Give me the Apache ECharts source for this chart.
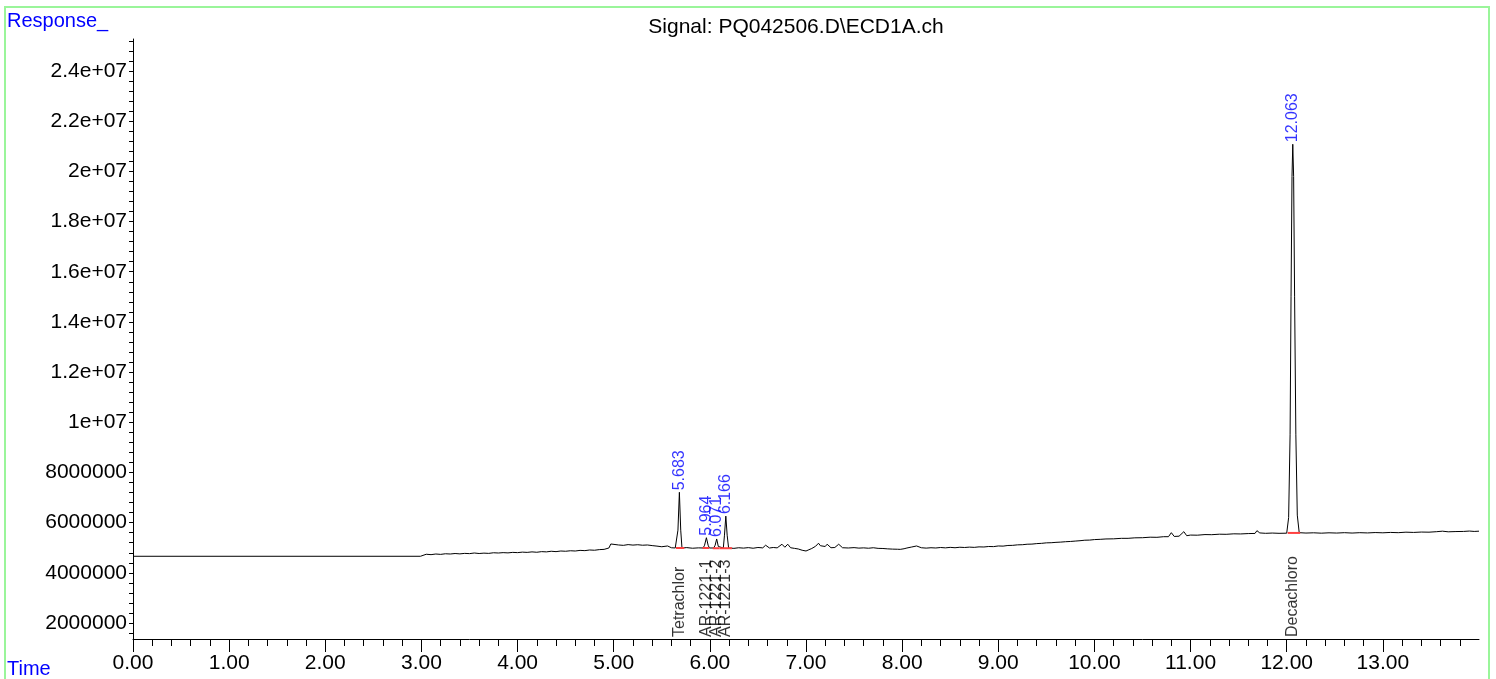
<!DOCTYPE html>
<html>
<head>
<meta charset="utf-8">
<title>ECD1A chromatogram</title>
<script src="https://cdn.jsdelivr.net/npm/echarts@6.0.0/dist/echarts.min.js"></script>
<style>
  html, body { margin: 0; padding: 0; background: #fff; }
  #main { width: 1496px; height: 679px; }
</style>
</head>
<body>
<div id="main"></div>
<script>
// signal trace: [time (min), response]
const trace = [
  [0.00, 4660000], [2.99, 4660000],
  [3.00, 4710000], [3.05, 4740000], [3.10, 4725000], [3.15, 4750000], [3.20, 4735000],
  [3.25, 4760000], [3.30, 4750000], [3.35, 4770000], [3.40, 4755000], [3.45, 4775000],
  [3.50, 4765000], [3.55, 4790000], [3.60, 4770000], [3.65, 4785000], [3.70, 4775000],
  [3.75, 4800000], [3.80, 4790000], [3.85, 4805000], [3.90, 4795000], [3.95, 4815000],
  [4.00, 4805000], [4.05, 4825000], [4.10, 4815000], [4.15, 4835000], [4.20, 4820000],
  [4.25, 4845000], [4.30, 4835000], [4.35, 4860000], [4.40, 4845000], [4.45, 4870000],
  [4.50, 4860000], [4.55, 4880000], [4.60, 4870000], [4.65, 4895000], [4.70, 4885000],
  [4.75, 4910000], [4.80, 4900000], [4.85, 4925000], [4.90, 4935000], [4.95, 4990000],
  [4.97, 5150000], [4.99, 5080000], [5.05, 5110000], [5.10, 5095000], [5.15, 5125000],
  [5.20, 5105000], [5.25, 5120000], [5.30, 5100000], [5.35, 5110000], [5.40, 5085000],
  [5.45, 5065000], [5.50, 5040000], [5.52, 5030000], [5.56, 5070000], [5.60, 5000000],
  [5.64, 4990000], [5.655, 4990000], [5.668, 5700000], [5.683, 7210000], [5.697, 5700000],
  [5.71, 4990000], [5.76, 5005000], [5.82, 4980000], [5.88, 4995000], [5.93, 4990000],
  [5.945, 5100000], [5.964, 5400000], [5.982, 5100000], [5.995, 4990000], [6.04, 4990000],
  [6.055, 5100000], [6.071, 5350000], [6.088, 5050000], [6.10, 4980000], [6.14, 4990000],
  [6.152, 5500000], [6.166, 6260000], [6.18, 5500000], [6.195, 4990000],
  [6.25, 4975000], [6.30, 5000000], [6.35, 4985000], [6.40, 5005000], [6.45, 4980000],
  [6.50, 5010000], [6.55, 4995000], [6.58, 5100000], [6.62, 4990000], [6.66, 5010000],
  [6.70, 4995000], [6.75, 5140000], [6.78, 5020000], [6.81, 5140000], [6.84, 5000000],
  [6.88, 4975000], [6.92, 4950000], [6.96, 4900000], [7.00, 4870000], [7.03, 4920000],
  [7.06, 4970000], [7.10, 5060000], [7.13, 5180000], [7.15, 5080000], [7.17, 5110000],
  [7.20, 5050000], [7.22, 5140000], [7.26, 5000000], [7.30, 5010000], [7.34, 5140000],
  [7.38, 5000000], [7.44, 4990000], [7.50, 5005000], [7.55, 4985000], [7.60, 4995000],
  [7.65, 4980000], [7.70, 5000000], [7.75, 4975000], [7.80, 4970000], [7.85, 4955000],
  [7.90, 4945000], [7.95, 4940000], [7.98, 4935000], [8.02, 4960000], [8.05, 4990000],
  [8.10, 5030000], [8.15, 5070000], [8.20, 5000000], [8.25, 4985000], [8.30, 5000000],
  [8.35, 4990000], [8.40, 5010000], [8.45, 4995000], [8.50, 5015000], [8.55, 5000000],
  [8.60, 5020000], [8.65, 5010000], [8.70, 5025000], [8.75, 5015000], [8.80, 5035000],
  [8.85, 5030000], [8.90, 5050000], [8.95, 5045000], [9.00, 5070000], [9.05, 5065000],
  [9.10, 5090000], [9.15, 5095000], [9.20, 5115000], [9.25, 5120000], [9.30, 5140000],
  [9.35, 5145000], [9.40, 5165000], [9.45, 5175000], [9.50, 5195000], [9.55, 5200000],
  [9.60, 5215000], [9.65, 5225000], [9.70, 5240000], [9.75, 5250000], [9.80, 5265000],
  [9.85, 5280000], [9.90, 5300000], [9.95, 5305000], [10.00, 5325000], [10.06, 5335000],
  [10.12, 5350000], [10.20, 5355000], [10.28, 5375000], [10.35, 5375000], [10.42, 5395000],
  [10.50, 5400000], [10.58, 5420000], [10.65, 5415000], [10.72, 5440000], [10.77, 5440000],
  [10.80, 5600000], [10.83, 5450000], [10.88, 5460000], [10.90, 5455000], [10.93, 5640000],
  [10.96, 5480000], [11.00, 5505000], [11.07, 5500000], [11.15, 5525000], [11.22, 5520000],
  [11.30, 5540000], [11.37, 5535000], [11.45, 5555000], [11.52, 5550000], [11.60, 5565000],
  [11.67, 5570000], [11.69, 5680000], [11.72, 5590000], [11.78, 5575000], [11.85, 5585000],
  [11.92, 5575000], [12.00, 5580000], [12.02, 6200000], [12.035, 9500000], [12.045, 15000000],
  [12.055, 19800000], [12.063, 21080000], [12.072, 19800000], [12.082, 15000000], [12.095, 9500000],
  [12.11, 6300000], [12.13, 5600000], [12.20, 5585000], [12.28, 5595000], [12.36, 5580000],
  [12.44, 5595000], [12.52, 5585000], [12.60, 5600000], [12.68, 5585000], [12.76, 5600000],
  [12.84, 5590000], [12.92, 5605000], [13.00, 5595000], [13.08, 5610000], [13.16, 5600000],
  [13.24, 5620000], [13.32, 5610000], [13.40, 5625000], [13.48, 5620000], [13.56, 5640000],
  [13.62, 5660000], [13.68, 5635000], [13.76, 5645000], [13.84, 5650000], [13.90, 5665000],
  [13.95, 5650000], [14.00, 5660000]
];

// integrated peaks
const peakTimes = [5.683, 5.964, 6.071, 6.166, 12.063];
const peakTops = [7210000, 5400000, 5350000, 6260000, 21080000];
const peakNames = ['Tetrachlor', 'AR-1221-1', 'AR-1221-2', 'AR-1221-3', 'Decachloro'];
// baseline under each peak: start, end, level
const baseStarts = [5.647, 5.924, 6.03, 6.10, 12.01];
const baseEnds = [5.734, 5.994, 6.10, 6.23, 12.14];
const baseLevels = [4990000, 4990000, 4980000, 4980000, 5590000];

// axis ticks
const xMajor = [0, 1, 2, 3, 4, 5, 6, 7, 8, 9, 10, 11, 12, 13];
const yLabels = [2000000, 4000000, 6000000, 8000000, 10000000, 12000000, 14000000,
  16000000, 18000000, 20000000, 22000000, 24000000];

const Y_MIN = 1363000, Y_MAX = 25275000;
const FONT = 'Arial, "Liberation Sans", sans-serif';

let xMinor = [];
for (let i = 0; i < 70; i++) {
  if (i % 5 != 0) xMinor.push(i / 5);
}
let yMinor = [];
for (let i = 4; i <= 63; i++) yMinor.push(i * 400000);

function fmtY(v) {
  if (v >= 10000000) return parseFloat((v / 10000000).toPrecision(3)) + 'e+07';
  return String(v);
}

let baseSeries = baseStarts.map((s, i) => ({
  type: 'line',
  data: [[s, baseLevels[i]], [baseEnds[i], baseLevels[i]]],
  symbol: 'none',
  lineStyle: { color: '#ff4040', width: 2 },
  silent: true,
  z: 3
}));

var option = {
  animation: false,
  backgroundColor: '#fff',
  textStyle: { fontFamily: FONT },
  grid: { left: 133, right: 17, top: 39, bottom: 40, containLabel: false },
  graphic: [
    {
      type: 'rect',
      shape: { x: 5, y: 7, width: 1484, height: 700 },
      style: { fill: 'none', stroke: '#9af59a', lineWidth: 2 },
      silent: true
    },
    {
      type: 'text', left: 7, top: 11,
      style: { text: 'Response_', fill: '#0000ff', font: '20px ' + FONT }
    },
    {
      type: 'text', left: 7, top: 659,
      style: { text: 'Time', fill: '#0000ff', font: '20px ' + FONT }
    },
    {
      type: 'text', x: 796, y: 27,
      style: { text: 'Signal: PQ042506.D\\ECD1A.ch', fill: '#000', font: '21px ' + FONT,
        textAlign: 'center', textVerticalAlign: 'middle' }
    }
  ],
  xAxis: [
    {
      type: 'value', min: 0, max: 14, position: 'bottom',
      axisLine: { show: true, onZero: false, lineStyle: { color: '#000', width: 1 } },
      axisTick: { show: true, length: 13, customValues: xMajor, lineStyle: { color: '#000' } },
      axisLabel: { customValues: xMajor, margin: 14, color: '#000', fontSize: 21, fontFamily: FONT,
        formatter: v => v.toFixed(2) },
      splitLine: { show: false }
    },
    {
      type: 'value', min: 0, max: 14, position: 'bottom',
      axisLine: { show: false },
      axisTick: { show: true, length: 7, customValues: xMinor, lineStyle: { color: '#000' } },
      axisLabel: { show: false },
      splitLine: { show: false }
    }
  ],
  yAxis: {
    type: 'value', min: Y_MIN, max: Y_MAX,
    axisLine: { show: true, onZero: false, lineStyle: { color: '#000', width: 1 } },
    axisTick: { show: true, length: 4, customValues: yMinor, lineStyle: { color: '#000' } },
    axisLabel: { customValues: yLabels, margin: 6, color: '#000', fontSize: 21, fontFamily: FONT,
      formatter: fmtY },
    splitLine: { show: false }
  },
  series: [
    {
      type: 'line',
      data: trace,
      symbol: 'none',
      lineStyle: { color: '#000', width: 1 },
      silent: true,
      z: 2
    }
  ].concat(baseSeries).concat([
    {
      type: 'scatter',
      data: peakTimes.map((t, i) => [t, peakTops[i]]),
      symbolSize: 0,
      silent: true,
      label: {
        show: true, position: 'top', distance: 2, rotate: 90,
        align: 'left', verticalAlign: 'middle',
        color: '#0000ff', fontSize: 16, fontFamily: FONT,
        formatter: p => p.value[0].toFixed(3)
      },
      z: 4
    },
    {
      type: 'scatter',
      data: peakTimes.map((t, i) => [t, Y_MIN]),
      symbolSize: 0,
      silent: true,
      label: {
        show: true, position: 'top', distance: 2, rotate: 90,
        align: 'left', verticalAlign: 'middle',
        color: '#000', fontSize: 16, fontFamily: FONT,
        formatter: p => peakNames[p.dataIndex]
      },
      z: 4
    }
  ])
};

let chart = echarts.init(document.getElementById('main'), null, { renderer: 'canvas' });
chart.setOption(option);
</script>
</body>
</html>
